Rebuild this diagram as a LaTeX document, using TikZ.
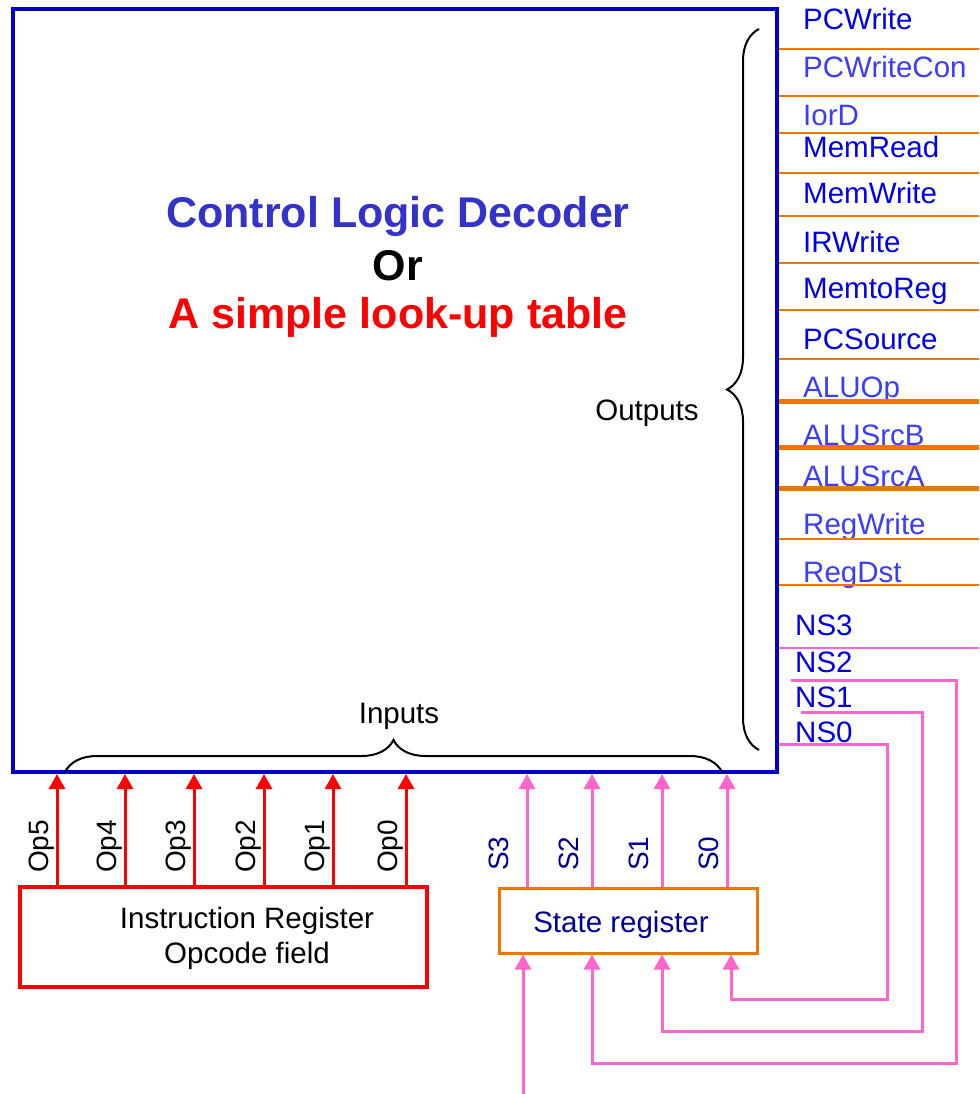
\documentclass[tikz,border=0pt]{standalone}
\usepackage{fontspec}
\setmainfont{Liberation Sans}
\usetikzlibrary{arrows.meta,decorations.pathreplacing}
\definecolor{boxblue}{RGB}{0,0,204}
\definecolor{titleblue}{RGB}{51,51,204}
\definecolor{sigblue}{RGB}{0,0,235}
\definecolor{liteblue}{RGB}{60,60,255}
\definecolor{navy}{RGB}{0,0,153}
\definecolor{wireorange}{RGB}{238,119,0}
\definecolor{wirepink}{RGB}{255,102,204}
\tikzset{
  txt/.style={inner sep=0pt, font=\fontsize{29.5}{35}\selectfont},
  rottxt/.style={inner sep=0pt, rotate=90, anchor=base west, font=\fontsize{28}{34}\selectfont},
  sigtxt/.style={txt, anchor=base west},
  titletxt/.style={inner sep=0pt, anchor=base, font=\fontsize{43}{50}\selectfont\bfseries},
  oline/.style={wireorange, line width=2.5pt},
  olinethick/.style={wireorange, line width=5pt},
  redarrow/.style={red, line width=3pt, -{Triangle[width=16pt,length=15pt]}},
  pinkarrow/.style={wirepink, line width=3pt, -{Triangle[width=16pt,length=15pt]}},
  pinkline/.style={wirepink, line width=2.5pt},
  bracept/.style={decorate, decoration={brace, amplitude=32pt}, line width=2pt},
}
\begin{document}
\begin{tikzpicture}[x=1pt,y=-1pt]
				\useasboundingbox (0,0) rectangle (979,1094);
				
				% decoder block
				\node[draw=boxblue, line width=4pt, minimum width=764pt, minimum height=763pt] (decoder) at (395,390.5) {};
				\node[titletxt, titleblue] (title1) at (398,227) {Control Logic Decoder};
				\node[titletxt] (title2) at (398,280) {Or};
				\node[titletxt, red] (title3) at (398,328) {A simple look-up table};
				
				% braces
				\draw[bracept] (65,772) -- (722,772);
				\node[txt, anchor=base] (inputs) at (399,723) {Inputs};
				\draw[bracept] (759,750) -- (759,29);
				\node[txt, anchor=base] (outputs) at (647,420) {Outputs};
				
				% output signals
				\foreach \y/\name/\col in {30/PCWrite/sigblue, 78/PCWriteCon/liteblue, 126/IorD/liteblue,
					158/MemRead/sigblue, 204/MemWrite/sigblue, 252/IRWrite/sigblue, 298/MemtoReg/sigblue,
					349/PCSource/sigblue, 397/ALUOp/liteblue, 445/ALUSrcB/liteblue, 486/ALUSrcA/liteblue,
					534/RegWrite/liteblue, 582/RegDst/liteblue}
					\node[sigtxt, \col] (\name) at (803,\y) {\name};
				\foreach \y in {49,96,133,173,216,263,310,359,539,585}
					\draw[oline] (decoder.east |- 0,\y) -- (979,\y);
				\foreach \y in {401,447,488}
					\draw[olinethick] (decoder.east |- 0,\y) -- (979,\y);
				
				% next state
				\node[sigtxt, sigblue] (ns3) at (795,635) {NS3};
				\node[sigtxt, sigblue] (ns2) at (795,672) {NS2};
				\node[sigtxt, sigblue] (ns1) at (795,707) {NS1};
				\node[sigtxt, sigblue] (ns0) at (795,742) {NS0};
				\draw[pinkline] (decoder.east |- 0,648) -- (979,648);
				
				% state register
				\node[draw=wireorange, line width=3pt, minimum width=258pt, minimum height=65pt] (sreg) at (628,920.5) {};
				\node[txt, navy, anchor=base] (sregtxt) at (621,932) {State register};
				\draw[pinkarrow] (decoder.east |- 0,744) -| (887,999) -| (sreg.south -| 731,0);
				\draw[pinkarrow] (801,712) -| (922,1031) -| (sreg.south -| 662,0);
				\draw[pinkarrow] (791,680) -| (956,1063) -| (sreg.south -| 592,0);
				\draw[pinkarrow] (523,1094) -- (sreg.south -| 523,0);
				\foreach \x/\lx/\name in {527/508/S3, 592/578/S2, 662/648/S1, 727/718/S0} {
					\draw[pinkarrow] (sreg.north -| \x,0) -- (decoder.south -| \x,0);
					\node[rottxt, navy] (lbl\name) at (\lx,871) {\name};
				}
				
				% instruction register
				\node[draw=red, line width=3.5pt, minimum width=407pt, minimum height=100pt] (ir) at (223.5,937) {};
				\node[txt, anchor=base] (irtxt1) at (247,928) {Instruction Register};
				\node[txt, anchor=base] (irtxt2) at (247,963) {Opcode field};
				\foreach \x/\name in {57/Op5, 125/Op4, 194/Op3, 264/Op2, 333/Op1, 406/Op0} {
					\draw[redarrow] (ir.north -| \x,0) -- (decoder.south -| \x,0);
					\node[rottxt] (lbl\name) at (\x-9,873) {\name};
				}
			\end{tikzpicture}
\end{document}
